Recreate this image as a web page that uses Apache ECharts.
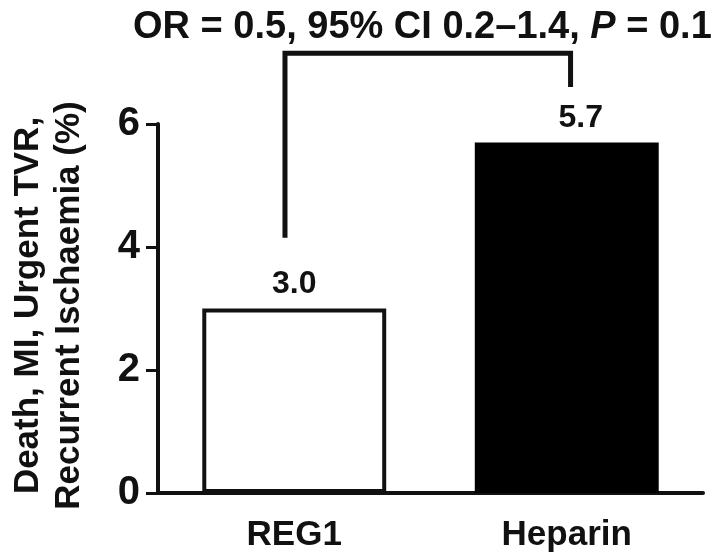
<!DOCTYPE html>
<html>
<head>
<meta charset="utf-8">
<script src="https://cdn.jsdelivr.net/npm/echarts@6/dist/echarts.min.js"></script>
<style>
  html, body { margin: 0; padding: 0; background: #fff; }
  #chart { width: 720px; height: 560px; }
</style>
</head>
<body>
<div id="chart"></div>
<script>
// data
const categories = ['REG1', 'Heparin']
const values = [3.0, 5.7]
const yMin = 0
const yMax = 6
const yStep = 2

// significance bracket, x on a 0..2 scale across the two groups
const bracketX = [0.466, 0.466, 1.514, 1.514]
const bracketY = [4.15, 7.15, 7.15, 6.6]

const titleText = 'OR = 0.5, 95% CI 0.2–1.4, {i|P} = 0.1'
const yName = 'Death, MI, Urgent TVR,\nRecurrent Ischaemia (%)'

const font = '"Liberation Sans", Arial, Helvetica, sans-serif'
const ink = '#111'

const chart = echarts.init(document.getElementById('chart'))

const option = {
  animation: false,
  backgroundColor: '#fff',
  title: {
    text: titleText,
    left: 128,
    top: 4,
    textStyle: {
      fontFamily: font,
      fontSize: 38,
      fontWeight: 'bold',
      color: ink,
      rich: {
        i: { fontFamily: font, fontSize: 38, fontWeight: 'bold', fontStyle: 'italic', color: ink },
      },
    },
  },
  grid: {
    left: 152,
    right: 17,
    top: 124,
    bottom: 67,
  },
  xAxis: [
    {
      type: 'category',
      data: categories,
      axisLine: { lineStyle: { color: ink, width: 4 } },
      axisTick: { alignWithLabel: true, length: 12, lineStyle: { color: ink, width: 3 } },
      axisLabel: {
        margin: 25,
        fontFamily: font,
        fontSize: 35,
        fontWeight: 'bold',
        color: ink,
      },
    },
    {
      type: 'value',
      min: 0,
      max: 2,
      show: false,
    },
  ],
  yAxis: {
    type: 'value',
    min: yMin,
    max: yMax,
    interval: yStep,
    name: yName,
    nameLocation: 'middle',
    nameGap: 68,
    nameTextStyle: {
      fontFamily: font,
      fontSize: 35,
      fontWeight: 'bold',
      color: ink,
      lineHeight: 41,
      padding: [0, 0, 0, 6],
    },
    splitLine: { show: false },
    axisLine: { show: true, lineStyle: { color: ink, width: 4 } },
    axisTick: { show: true, length: 12, lineStyle: { color: ink, width: 3 } },
    axisLabel: {
      margin: 18,
      fontFamily: font,
      fontSize: 40,
      fontWeight: 'bold',
      color: ink,
    },
  },
  series: [
    {
      type: 'bar',
      barWidth: '67.5%',
      data: values.map((v, i) => ({
        value: v,
        itemStyle: i === 0
          ? { color: '#fff', borderColor: ink, borderWidth: 4 }
          : { color: '#000' },
        label: i === 0 ? {} : { offset: [14, 0] },
      })),
      label: {
        show: true,
        position: 'top',
        distance: 8,
        fontFamily: font,
        fontSize: 32,
        fontWeight: 'bold',
        color: ink,
        formatter: (p) => p.value.toFixed(1),
      },
    },
    {
      type: 'line',
      xAxisIndex: 1,
      clip: false,
      symbol: 'none',
      silent: true,
      data: bracketX.map((x, i) => [x, bracketY[i]]),
      lineStyle: { color: ink, width: 5, cap: 'butt', join: 'miter' },
    },
  ],
}

chart.setOption(option)
</script>
</body>
</html>
